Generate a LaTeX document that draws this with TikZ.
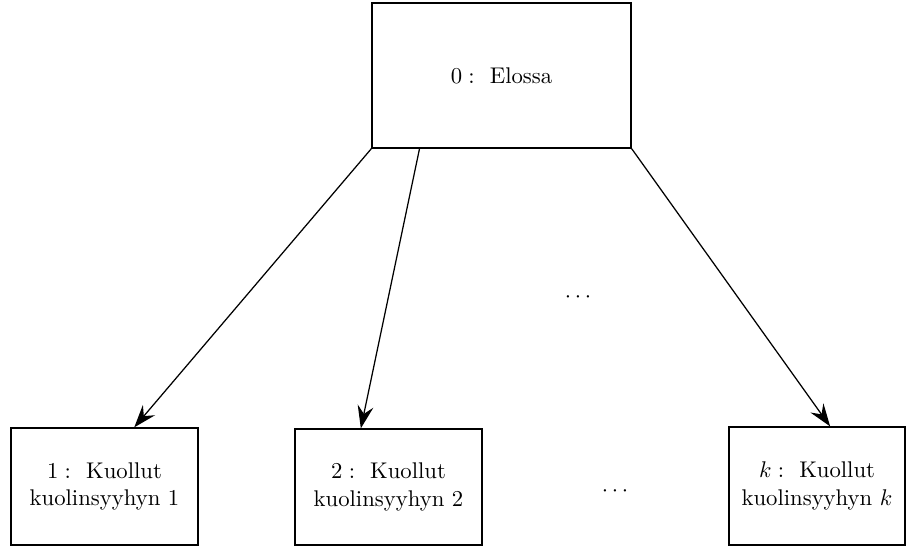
\documentclass[tikz,border=0pt]{standalone}
\usetikzlibrary{arrows.meta,calc}
\begin{document}
\begin{tikzpicture}[x=0.44053pt,y=-0.44053pt,
  box/.style={draw,line width=0.55pt,inner sep=0pt,align=center},
  conn/.style={line width=0.55pt,-{Stealth[length=10pt,width=7pt,inset=3.5pt]}}]
\useasboundingbox (0,0) rectangle (908,546);
\node[box,minimum width=259*0.44053pt,minimum height=145*0.44053pt] (s0) at (501.5,75.5) {$0:$~ Elossa};
\node[box,minimum width=187*0.44053pt,minimum height=117*0.44053pt] (s1) at (104.5,486.5) {$1:$~ Kuollut\\kuolinsyyhyn 1};
\node[box,minimum width=187*0.44053pt,minimum height=116*0.44053pt] (s2) at (388.5,487) {$2:$~ Kuollut\\kuolinsyyhyn 2};
\node[box,minimum width=176*0.44053pt,minimum height=118*0.44053pt] (sk) at (817,486) {$k:$~ Kuollut\\kuolinsyyhyn $k$};
\node (d1) at (578,297) {$\cdots$};
\node (d2) at (615,491) {$\cdots$};
\coordinate (a2) at ($(s0.south west)!0.185!(s0.south east)$);
\coordinate (e1) at ($(s1.north west)!0.658!(s1.north east)$);
\coordinate (e2) at ($(s2.north west)!0.353!(s2.north east)$);
\coordinate (ek) at ($(sk.north west)!0.574!(sk.north east)$);
\draw[conn] (s0.south west) -- (e1);
\draw[conn] (a2) -- (e2);
\draw[conn] (s0.south east) -- (ek);
\end{tikzpicture}
\end{document}
